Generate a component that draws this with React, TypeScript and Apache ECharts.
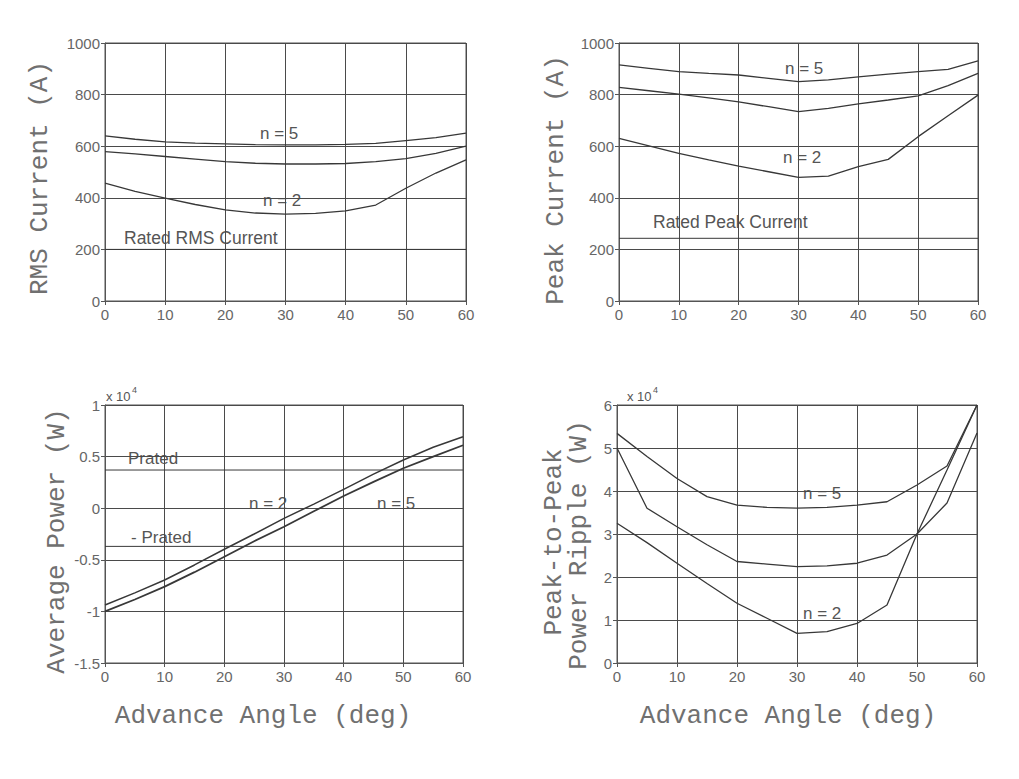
import React, { useEffect, useRef } from "react";
import * as echarts from "echarts";

// ---- data ----
const angles = [0, 5, 10, 15, 20, 25, 30, 35, 40, 45, 50, 55, 60];

// RMS current (A)
const rmsN5 = [640, 627, 617, 612, 609, 606, 605, 605, 607, 611, 622, 633, 651];
const rmsMid = [579, 570, 560, 550, 540, 534, 531, 531, 533, 540, 552, 572, 600];
const rmsN2 = [457, 425, 399, 374, 353, 341, 337, 340, 349, 372, 437, 496, 547];
const ratedRms = 200;

// Peak current (A)
const peakN5 = [915, 902, 889, 882, 876, 863, 850, 857, 869, 879, 889, 898, 931];
const peakMid = [828, 815, 802, 787, 772, 753, 734, 747, 764, 779, 795, 835, 882];
const peakN2 = [630, 601, 572, 547, 523, 501, 479, 484, 521, 549, 637, 718, 798];
const ratedPeak = 243;

// Average power (x 10^4 W)
const powerN2 = [-0.938, -0.82, -0.696, -0.55, -0.398, -0.25, -0.098, 0.04, 0.183, 0.33, 0.467, 0.59, 0.693];
const powerN5 = [-1.0, -0.885, -0.76, -0.62, -0.47, -0.32, -0.18, -0.03, 0.118, 0.255, 0.387, 0.5, 0.61];
const pRated = 0.37;

// Peak-to-peak power ripple (x 10^4 W)
const rippleN5 = [5.34, 4.8, 4.29, 3.87, 3.67, 3.62, 3.6, 3.62, 3.67, 3.75, 4.14, 4.58, 6.0];
const rippleMid = [5.0, 3.6, 3.17, 2.75, 2.36, 2.3, 2.24, 2.26, 2.32, 2.51, 3.0, 3.72, 5.35];
const rippleN2 = [3.25, 2.8, 2.32, 1.85, 1.39, 1.04, 0.69, 0.73, 0.92, 1.35, 3.0, 4.49, 6.0];

const xMin = 0, xMax = 60, xStep = 10;

const pairs = (vals: number[]) => angles.map((a, i) => [a, vals[i]]);
const flat = (v: number) => [[xMin, v], [xMax, v]];

const GRID_COLOR = "#4a4a4a";
const LINE_COLOR = "#383838";
const TEXT_COLOR = "#666";
const MONO = "'Liberation Mono', 'DejaVu Sans Mono', monospace";
const SANS = "'Liberation Sans', Arial, sans-serif";

export default function App() {
  const ref = useRef<HTMLDivElement>(null);
  useEffect(() => {
    if (!ref.current) return;
    const chart = echarts.init(ref.current, null, { renderer: "svg" });

    const grids = [
      { left: 105, top: 43, width: 361, height: 258 },
      { left: 619, top: 43, width: 359, height: 258 },
      { left: 105, top: 405, width: 358, height: 258 },
      { left: 617, top: 405, width: 360, height: 258 },
    ].map((g) => ({ ...g, show: true, borderColor: "#555", borderWidth: 1, backgroundColor: "transparent" }));

    const xAxis = [0, 1, 2, 3].map((gi) => ({
      type: "value",
      gridIndex: gi,
      min: xMin,
      max: xMax,
      interval: xStep,
      axisLine: { show: true, onZero: false, lineStyle: { color: "#555" } },
      axisTick: { show: true, length: 4, lineStyle: { color: "#555" } },
      splitLine: { show: true, lineStyle: { color: GRID_COLOR, width: 1 } },
      axisLabel: { color: TEXT_COLOR, fontSize: 15, fontFamily: SANS, margin: 6 },
    }));

    const yBase = {
      type: "value",
      axisLine: { show: true, onZero: false, lineStyle: { color: "#555" } },
      axisTick: { show: true, length: 4, lineStyle: { color: "#555" } },
      splitLine: { show: true, lineStyle: { color: GRID_COLOR, width: 1 } },
      axisLabel: {
        color: TEXT_COLOR,
        fontSize: 15,
        fontFamily: SANS,
        margin: 5,
        formatter: (v: number) => String(v),
      },
    };
    const yAxis = [
      { ...yBase, gridIndex: 0, min: 0, max: 1000, interval: 200 },
      { ...yBase, gridIndex: 1, min: 0, max: 1000, interval: 200 },
      { ...yBase, gridIndex: 2, min: -1.5, max: 1, interval: 0.5 },
      { ...yBase, gridIndex: 3, min: 0, max: 6, interval: 1 },
    ];

    const line = (idx: number, data: number[][], width = 1.3) => ({
      type: "line",
      xAxisIndex: idx,
      yAxisIndex: idx,
      data,
      showSymbol: false,
      symbol: "none",
      lineStyle: { color: LINE_COLOR, width },
      silent: true,
    });

    const series = [
      line(0, pairs(rmsN5)),
      line(0, pairs(rmsMid)),
      line(0, pairs(rmsN2)),
      line(0, flat(ratedRms), 1),
      line(1, pairs(peakN5)),
      line(1, pairs(peakMid)),
      line(1, pairs(peakN2)),
      line(1, flat(ratedPeak), 1),
      line(2, pairs(powerN2), 1.5),
      line(2, pairs(powerN5), 1.8),
      line(2, flat(pRated), 1),
      line(2, flat(-pRated), 1),
      line(3, pairs(rippleN5)),
      line(3, pairs(rippleMid)),
      line(3, pairs(rippleN2)),
    ];

    const label = (text: string, x: number, y: number, size = 17) => ({
      type: "text",
      x,
      y,
      style: { text, fill: "#555", font: `${size}px ${SANS}`, textVerticalAlign: "middle" },
    });
    const vTitle = (text: string, x: number, y: number, size = 26) => ({
      type: "text",
      x,
      y,
      rotation: Math.PI / 2,
      style: { text, fill: "#707070", font: `${size}px ${MONO}`, textAlign: "center", textVerticalAlign: "middle" },
    });
    const hTitle = (text: string, x: number, y: number) => ({
      type: "text",
      x,
      y,
      style: { text, fill: "#707070", font: `26px ${MONO}`, textAlign: "center", textVerticalAlign: "middle" },
    });

    const graphic = [
      label("n = 5", 260, 133),
      label("n = 2", 263, 200),
      label("Rated RMS Current", 124, 238, 17.5),
      label("n = 5", 785, 68),
      label("n = 2", 783, 157),
      label("Rated Peak Current", 653, 222, 17.5),
      label("Prated", 128, 458),
      label("- Prated", 131, 537),
      label("n = 2", 249, 503),
      label("n = 5", 377, 503),
      label("n = 5", 803, 493),
      label("n = 2", 803, 613),
      label("x 10", 106, 396, 13),
      label("4", 132, 390, 9),
      label("x 10", 627, 396, 13),
      label("4", 653, 390, 9),
      vTitle("RMS Current (A)", 40, 178),
      vTitle("Peak Current (A)", 556, 180),
      vTitle("Average Power (W)", 57, 541),
      vTitle("Peak-to-Peak", 554, 542),
      vTitle("Power Ripple (W)", 579, 545),
      hTitle("Advance Angle (deg)", 263, 716),
      hTitle("Advance Angle (deg)", 788, 716),
    ];

    chart.setOption({
      animation: false,
      backgroundColor: "#ffffff",
      grid: grids,
      xAxis,
      yAxis,
      series,
      graphic,
    } as any);

    return () => chart.dispose();
  }, []);

  return (
    <div
      ref={ref}
      style={{ position: "fixed", left: 0, top: 0, width: 1019, height: 779, background: "#fff" }}
    />
  );
}
